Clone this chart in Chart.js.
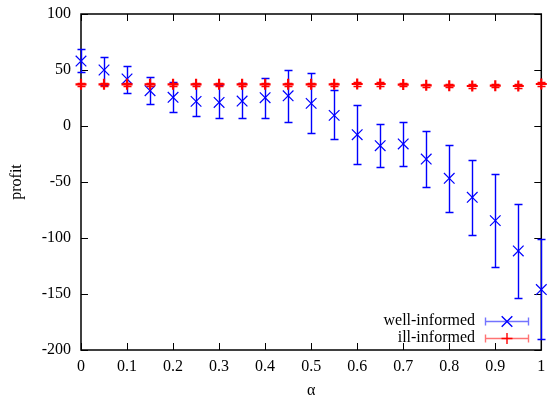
<!DOCTYPE html>
<html>
<head>
<meta charset="utf-8">
<script src="https://cdn.jsdelivr.net/npm/chart.js@4/dist/chart.umd.min.js"></script>
<style>
  html, body { margin: 0; padding: 0; background: #fff; }
  #wrap { width: 550px; height: 401px; }
</style>
</head>
<body>
<div id="wrap"><canvas id="c" width="550" height="401"></canvas></div>
<script>
// ── Data ──
const alpha = [0, 0.05, 0.1, 0.15, 0.2, 0.25, 0.3, 0.35, 0.4, 0.45, 0.5, 0.55, 0.6, 0.65, 0.7, 0.75, 0.8, 0.85, 0.9, 0.95, 1];
const wellMean = [58, 50, 42, 31.5, 25.6, 22, 21, 22.3, 25.3, 27, 20.2, 9.5, -7.8, -17.6, -16, -29.5, -46.7, -63.7, -84.5, -111.6, -146];
const wellLow  = [48.5, 37, 29.5, 19.6, 12.8, 9.2, 7.4, 6.8, 7, 3.6, -6.3, -11.6, -33.6, -36.6, -35.7, -54.2, -77, -97.3, -126, -153.8, -190];
const wellHigh = [68.7, 61.5, 54, 43.5, 39, 37.5, 36.5, 38.5, 43, 50.3, 47, 32, 18.5, 2, 3.6, -4.2, -16.7, -30, -42.6, -69.6, -101];
const illMean  = [37.2, 37.2, 37.2, 37.2, 37.2, 37.2, 37.2, 37.2, 37.2, 37.2, 37.2, 37.2, 37.5, 37.5, 37, 36.3, 36, 35.7, 36, 35.7, 37.5];
const illLow   = [35.6, 35.6, 35.6, 35.6, 35.6, 35.6, 35.6, 35.6, 35.6, 35.6, 35.6, 35.6, 35.9, 35.9, 35.4, 34.7, 34.4, 34.1, 34.4, 34.1, 35.9];
const illHigh  = [38.8, 38.8, 38.8, 38.8, 38.8, 38.8, 38.8, 38.8, 38.8, 38.8, 38.8, 38.8, 39.1, 39.1, 38.6, 37.9, 37.6, 37.3, 37.6, 37.3, 39.1];
const xTicks = { min: 0, max: 1, step: 0.1 };
const yTicks = { min: -200, max: 100, step: 50 };

const BLUE = 'rgb(0,0,255)', RED = 'rgb(255,0,0)';
const FONT = "'Liberation Serif', 'DejaVu Serif', serif";

function pts(means) { return alpha.map((a, i) => ({ x: a, y: means[i] })); }

const series = [
    { label: 'well-informed', color: BLUE, low: wellLow, high: wellHigh, style: 'crossRot', r: 7.5, w: 1.2 },
    { label: 'ill-informed', color: RED, low: illLow, high: illHigh, style: 'cross', r: 5.5, w: 2.2 }
];

// ── Error bars, drawn under each dataset's markers ──
const errorBars = {
    id: 'errorBars',
    beforeDatasetDraw(chart, args) {
        const s = series[args.index];
        const { ctx, scales: { x, y } } = chart;
        ctx.save();
        ctx.lineWidth = 1.4;
        ctx.strokeStyle = s.color;
        alpha.forEach((a, i) => {
            const px = Math.round(x.getPixelForValue(a)) + 0.5;
            const lo = Math.round(y.getPixelForValue(s.low[i])) + 0.5;
            const hi = Math.round(y.getPixelForValue(s.high[i])) + 0.5;
            ctx.beginPath();
            ctx.moveTo(px, lo); ctx.lineTo(px, hi);
            ctx.moveTo(px - 4, lo); ctx.lineTo(px + 4, lo);
            ctx.moveTo(px - 4, hi); ctx.lineTo(px + 4, hi);
            ctx.stroke();
        });
        ctx.restore();
    }
};

// ── Frame with inward ticks (gnuplot style) ──
const frame = {
    id: 'frame',
    beforeDatasetsDraw(chart) {
        const { ctx, chartArea: a, scales: { x, y } } = chart;
        ctx.save();
        ctx.strokeStyle = '#000';
        ctx.lineWidth = 1.5;
        ctx.strokeRect(a.left, a.top, a.right - a.left, a.bottom - a.top);
        ctx.lineWidth = 1;
        ctx.beginPath();
        x.ticks.forEach(t => {
            const px = Math.round(x.getPixelForValue(t.value)) + 0.5;
            ctx.moveTo(px, a.bottom); ctx.lineTo(px, a.bottom - 7);
            ctx.moveTo(px, a.top); ctx.lineTo(px, a.top + 7);
        });
        y.ticks.forEach(t => {
            const py = Math.round(y.getPixelForValue(t.value)) + 0.5;
            ctx.moveTo(a.left, py); ctx.lineTo(a.left + 7, py);
            ctx.moveTo(a.right, py); ctx.lineTo(a.right - 7, py);
        });
        ctx.stroke();
        ctx.restore();
    }
};

// ── Legend: text on the left, error-bar sample on the right ──
const keyBox = {
    id: 'keyBox',
    afterDraw(chart) {
        const { ctx } = chart;
        const rowY = [321, 337.5];
        ctx.save();
        ctx.font = `16px ${FONT}`;
        ctx.textAlign = 'right';
        ctx.textBaseline = 'middle';
        series.forEach((s, i) => {
            const yy = Math.round(rowY[i]) + 0.5;
            ctx.fillStyle = '#000';
            ctx.fillText(s.label, 475, rowY[i]);
            ctx.globalAlpha = 0.55;
            ctx.strokeStyle = s.color;
            ctx.lineWidth = 1.4;
            ctx.beginPath();
            ctx.moveTo(485, yy); ctx.lineTo(529, yy);
            ctx.moveTo(485.5, yy - 4); ctx.lineTo(485.5, yy + 4);
            ctx.moveTo(528.5, yy - 4); ctx.lineTo(528.5, yy + 4);
            ctx.stroke();
            ctx.globalAlpha = 1;
            ctx.fillStyle = s.color;
            Chart.helpers.drawPoint(ctx, { pointStyle: s.style, radius: s.r, borderWidth: s.w, rotation: 0 }, 507, yy);
        });
        ctx.restore();
    }
};

Chart.defaults.font.family = FONT;
Chart.defaults.font.size = 16;
Chart.defaults.color = '#000';

new Chart(document.getElementById('c').getContext('2d'), {
    type: 'scatter',
    data: {
        datasets: series.map((s, i) => ({
            label: s.label,
            data: pts(i === 0 ? wellMean : illMean),
            pointStyle: s.style, pointRadius: s.r, pointBorderWidth: s.w,
            borderColor: s.color, backgroundColor: s.color,
            order: 2 - i, clip: false
        }))
    },
    options: {
        responsive: false,
        animation: false,
        events: [],
        layout: { padding: { top: 14, right: 2, left: 0, bottom: 0 } },
        plugins: { legend: { display: false }, tooltip: { enabled: false } },
        scales: {
            x: {
                type: 'linear', min: xTicks.min, max: xTicks.max,
                grid: { display: false, drawTicks: false },
                border: { display: false },
                ticks: { stepSize: xTicks.step, padding: 7, maxRotation: 0, autoSkip: false,
                         callback: v => String(Math.round(v * 10) / 10) },
                title: { display: true, text: 'α', padding: { top: 0, bottom: 1 } },
                afterFit(s) { s.height = 51; s.paddingLeft = 0; s.paddingRight = 0; }
            },
            y: {
                type: 'linear', min: yTicks.min, max: yTicks.max,
                grid: { display: false, drawTicks: false },
                border: { display: false },
                ticks: { stepSize: yTicks.step, padding: 10 },
                title: { display: true, text: 'profit', padding: { top: 7, bottom: 0 } },
                afterFit(s) { s.width = 81; s.paddingTop = 0; s.paddingBottom = 0; }
            }
        }
    },
    plugins: [frame, errorBars, keyBox]
});
</script>
</body>
</html>
